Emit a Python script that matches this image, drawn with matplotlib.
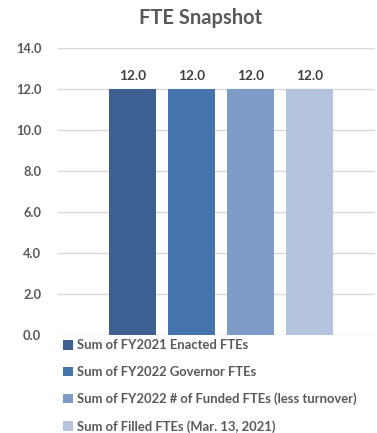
import matplotlib
matplotlib.use("Agg")
import matplotlib.pyplot as plt
from matplotlib.patches import Patch

series = ["Sum of FY2021 Enacted FTEs",
          "Sum of FY2022 Governor FTEs",
          "Sum of FY2022 # of Funded FTEs (less turnover)",
          "Sum of Filled FTEs (Mar. 13, 2021)"]
values = [12.0, 12.0, 12.0, 12.0]
colors = ["#3B6091", "#4675AD", "#7F9CC8", "#B5C4DE"]
yticks = [0, 2, 4, 6, 8, 10, 12, 14]

plt.rcParams['font.family'] = ['Lato', 'DejaVu Sans']
txt = "#595959"

fig = plt.figure(figsize=(3.77, 4.33), dpi=100)
ax = fig.add_axes([58/377, 1-335/433, 317/377, 287/433])

x = list(range(len(values)))
bars = ax.bar(x, values, width=0.8, color=colors, zorder=3)
for b, v in zip(bars, values):
    ax.text(b.get_x() + b.get_width()/2, v + 0.35, f"{v:.1f}",
            ha="center", va="bottom", fontsize=9.8, fontweight="bold", color="#404040")

ax.set_xlim(-1.263, 4.11)
ax.set_ylim(0, 14)
ax.set_yticks(yticks)
ax.set_yticklabels([f"{t:.1f}" for t in yticks], fontsize=9.3, fontweight="bold", color=txt)
ax.set_xticks([])
ax.grid(axis="y", color="#D9D9D9", linewidth=1, zorder=0)
ax.tick_params(axis="y", length=0, pad=12)
for s in ax.spines.values():
    s.set_visible(False)

fig.text(201/377, 1-18/433, "FTE Snapshot", ha="center", va="center",
         fontsize=14.5, fontweight="bold", color=txt)

handles = [Patch(facecolor=c, label=s) for c, s in zip(colors, series)]
leg = fig.legend(handles=handles, loc="upper left", bbox_to_anchor=(53/377, 1-329/433),
                 frameon=False, handlelength=0.75, handleheight=0.75, handletextpad=0.3,
                 labelspacing=1.12, borderpad=0.3, prop={'size': 9.4, 'weight': 'bold'})
for t in leg.get_texts():
    t.set_color(txt)

fig.savefig("out.png", dpi=100)
